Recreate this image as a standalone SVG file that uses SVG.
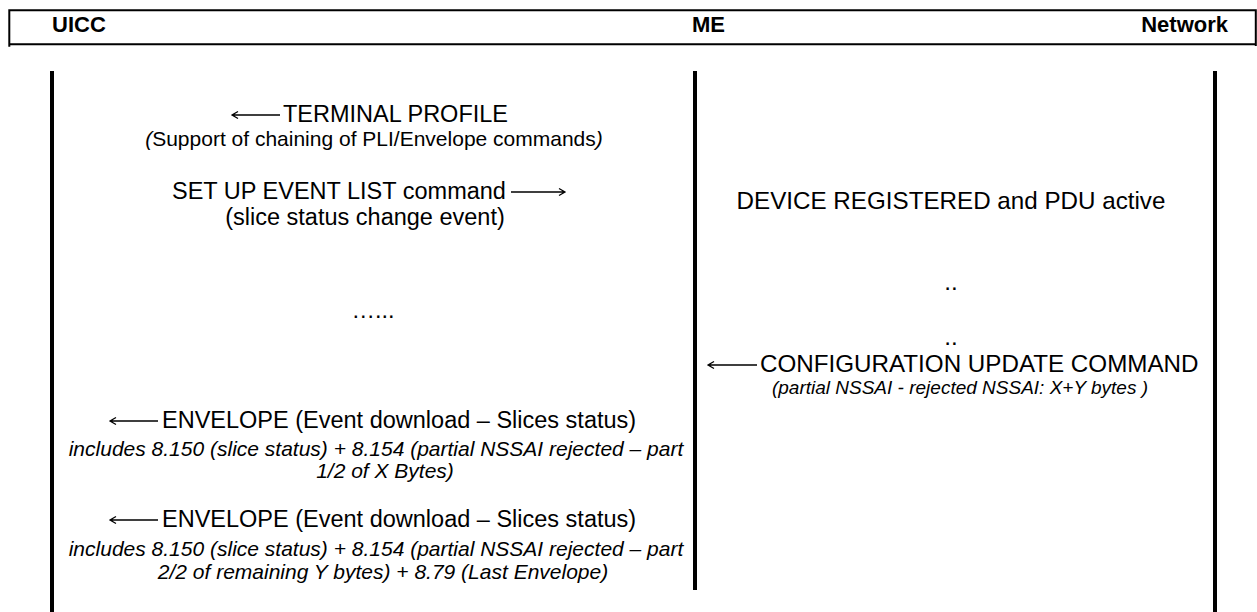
<svg xmlns="http://www.w3.org/2000/svg" width="1257" height="612" viewBox="0 0 1257 612">
<defs>
<style>
text{font-family:"Liberation Sans",Arial,Helvetica,sans-serif;fill:#000}
.h{font-size:22px;font-weight:bold}
.m{font-size:23.5px}
.r{font-size:24.2px}
.p{font-size:21px}
.i{font-size:21px;font-style:italic}
.si{font-size:19px;font-style:italic}
.it{font-style:italic}
.frame{stroke:#000;stroke-width:2;fill:none}
.life{fill:#000}
.arr{stroke:#000;stroke-width:1.3;fill:none}
</style>
</defs>
<rect width="1257" height="612" fill="#fff"/>
<g id="header">
<path class="frame" d="M8.3,10.3 H1256.7 M9,44.3 H1256.7 M9.3,9.3 V46.7 M1255.8,9.3 V46"/>
</g>
<g id="uicc">
<text class="h" x="52" y="32">UICC</text>
<rect class="life" x="50" y="71" width="4" height="541"/>
</g>
<g id="me">
<text class="h" x="692" y="32">ME</text>
<rect class="life" x="693" y="71" width="4" height="519"/>
</g>
<g id="network">
<text class="h" x="1228" y="32" text-anchor="end">Network</text>
<rect class="life" x="1213" y="71" width="4" height="541"/>
</g>
<g id="connectors">
<path class="arr" d="M232,115 H280 M238,111.5 L232,115 L238,118.5"/>
<path class="arr" d="M511,192 H565 M559,188.5 L565,192 L559,195.5"/>
<path class="arr" d="M708,365 H757 M714,361.5 L708,365 L714,368.5"/>
<path class="arr" d="M110,421 H158 M116,417.5 L110,421 L116,424.5"/>
<path class="arr" d="M110,520 H158 M116,516.5 L110,520 L116,523.5"/>
</g>
<g id="msg-terminal-profile">
<text class="m" x="283" y="122">TERMINAL PROFILE</text>
<text class="p" x="374" y="146" text-anchor="middle"><tspan class="it">(</tspan>Support of chaining of PLI/Envelope commands<tspan class="it">)</tspan></text>
</g>
<g id="msg-setup-event-list">
<text class="m" x="172" y="199">SET UP EVENT LIST command</text>
<text class="m" x="365" y="225" text-anchor="middle">(slice status change event)</text>
</g>
<g id="state-registered">
<text class="r" x="951" y="209" text-anchor="middle">DEVICE REGISTERED and PDU active</text>
</g>
<g id="gap-left">
<text class="m" x="373" y="318" text-anchor="middle">…...</text>
</g>
<g id="gap-right">
<text class="r" x="951" y="290" text-anchor="middle">..</text>
<text class="r" x="951" y="345" text-anchor="middle">..</text>
</g>
<g id="msg-config-update">
<text class="r" x="760" y="372">CONFIGURATION UPDATE COMMAND</text>
<text class="si" x="960" y="394" text-anchor="middle">(partial NSSAI - rejected NSSAI: X+Y bytes )</text>
</g>
<g id="msg-envelope-1">
<text class="m" x="162" y="428">ENVELOPE (Event download – Slices status)</text>
<text class="i" x="376" y="456" text-anchor="middle">includes 8.150 (slice status) + 8.154 (partial NSSAI rejected – part</text>
<text class="i" x="385" y="478" text-anchor="middle">1/2 of X Bytes)</text>
</g>
<g id="msg-envelope-2">
<text class="m" x="162" y="527">ENVELOPE (Event download – Slices status)</text>
<text class="i" x="376" y="556" text-anchor="middle">includes 8.150 (slice status) + 8.154 (partial NSSAI rejected – part</text>
<text class="i" x="383" y="579" text-anchor="middle">2/2 of remaining Y bytes) + 8.79 (Last Envelope)</text>
</g>
</svg>
